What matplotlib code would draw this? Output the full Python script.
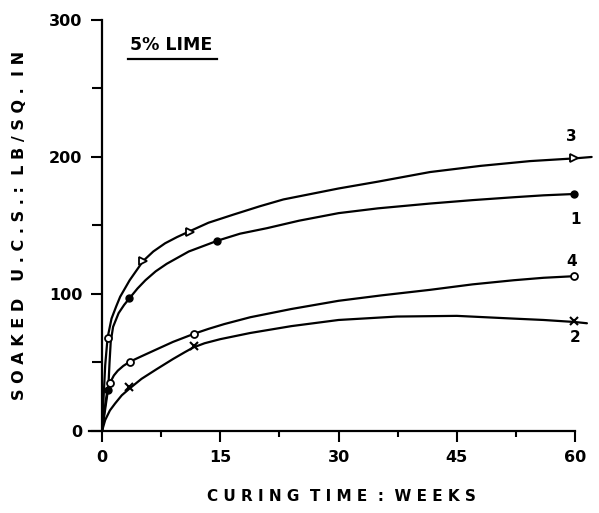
'''
Soaked UCS vs curing time for 5% lime mixes (curves 1-4).
'''

import matplotlib
matplotlib.use("Agg")
import matplotlib.pyplot as plt
from matplotlib.ticker import MultipleLocator

# Curves (weeks, lb/sq in)
weeks_3 = [0, 0.2, 0.4, 0.7, 1.2, 1.8, 2.3, 3.5, 5.2, 6.5, 8, 9.5, 11.2, 13.5, 16.7, 20,
           23, 26.5, 30, 35, 41.6, 48, 54.3, 60, 62.1]
ucs_3 = [0, 25, 48, 68, 82, 91, 98, 110, 124, 131, 137, 141.5, 146, 152, 158, 164,
         169, 173, 177, 182, 189, 193.5, 197, 199, 200]

weeks_1 = [0, 0.3, 0.6, 0.8, 0.95, 1.1, 1.4, 2.1, 2.8, 3.5, 4.5, 5.5, 6.8, 8.2, 11, 14.7,
           17.5, 20.9, 25, 30, 35, 41.6, 47, 52.2, 56, 60]
ucs_1 = [0, 12, 24, 32, 50, 65, 76, 86, 92, 97, 104, 110, 116.5, 122, 131, 139,
         144, 148, 153.5, 159, 162.5, 166, 168.5, 170.6, 172, 173]

weeks_4 = [0, 0.3, 0.6, 1.0, 1.5, 2.0, 2.7, 3.55, 5, 6.9, 9, 11.7, 13.5, 15.5, 18.8, 24, 30,
           35.5, 41.6, 47, 52.2, 56, 60]
ucs_4 = [0, 15, 27, 35, 40.5, 44, 47.5, 50.6, 54.5, 59.5, 65, 71, 74.5, 78, 83, 89, 95,
         99, 103, 107, 110, 111.8, 113]

weeks_2 = [0, 0.4, 1.0, 1.65, 2.5, 3.5, 5, 6.9, 9, 10.5, 11.6, 13, 15, 18.8, 24, 30, 37.4, 45,
           52.2, 56, 60, 61.5]
ucs_2 = [0, 8, 15, 20, 26, 31, 38, 45, 52.5, 57.5, 61, 64, 67, 71.5, 76.5, 81, 83.5, 84,
         82, 81, 79.5, 78.6]

# Measured points (markers)
pts_3_x = [5.2, 11.2, 59.8]
pts_3_y = [124, 145, 199]
pts_3b_x = [0.7]
pts_3b_y = [68]
pts_1_x = [0.8, 3.4, 14.6, 59.8]
pts_1_y = [30, 97, 139, 173]
pts_4_x = [1.0, 3.55, 11.7, 59.8]
pts_4_y = [35, 50.6, 71, 113]
pts_2_x = [3.4, 11.7, 59.8]
pts_2_y = [32, 62, 80]

# Curve numbers next to the right end
curve_labels = ["3", "1", "4", "2"]
label_x = [59.5, 60, 59.5, 60]
label_y = [215, 154, 124, 68]

plt.rcParams['font.family'] = ['DejaVu Sans']
plt.rcParams['font.weight'] = 'bold'

fig = plt.figure(figsize=(5.99, 5.13), dpi=100)
ax = fig.add_axes([0.148, 0.16, 0.845, 0.801])

lw = 1.6
for xs, ys in [(weeks_3, ucs_3), (weeks_1, ucs_1), (weeks_4, ucs_4), (weeks_2, ucs_2)]:
    ax.plot(xs, ys, color='black', lw=lw, solid_capstyle='round', solid_joinstyle='round')

ax.plot(pts_3_x, pts_3_y, ls='none', marker='>', ms=6, mfc='white', mec='black', mew=1.3)
ax.plot(pts_3b_x, pts_3b_y, ls='none', marker='o', ms=5, mfc='white', mec='black', mew=1.3)
ax.plot(pts_1_x, pts_1_y, ls='none', marker='o', ms=5, mfc='black', mec='black')
ax.plot(pts_4_x, pts_4_y, ls='none', marker='o', ms=5, mfc='white', mec='black', mew=1.3)
ax.plot(pts_2_x, pts_2_y, ls='none', marker='x', ms=6, mec='black', mew=1.5)

for lab, lx, ly in zip(curve_labels, label_x, label_y):
    ax.text(lx, ly, lab, ha='center', va='center', fontsize=11, fontweight='bold')

# "5% LIME" heading with underline
ax.text(3.5, 282, "5% LIME", ha='left', va='center', fontsize=12.5, fontweight='bold')
ax.plot([3.3, 14.6], [271.5, 271.5], color='black', lw=1.6)

ax.set_xlim(-1.7, 62.5)
ax.set_ylim(0, 300)

for side in ['top', 'right']:
    ax.spines[side].set_visible(False)
ax.spines['left'].set_position(('data', 0))
ax.spines['left'].set_bounds(0, 300)
ax.spines['bottom'].set_bounds(-1.7, 60)
ax.spines['left'].set_linewidth(1.6)
ax.spines['bottom'].set_linewidth(1.6)

ax.set_xticks([0, 15, 30, 45, 60])
ax.xaxis.set_minor_locator(MultipleLocator(7.5))
ax.set_yticks([0, 100, 200, 300])
ax.yaxis.set_minor_locator(MultipleLocator(50))
ax.tick_params(which='major', direction='out', length=8, width=1.5, labelsize=11.5, pad=6)
ax.tick_params(which='minor', direction='out', length=4, width=1.5)
ax.tick_params(axis='y', which='minor', length=7)

ax.set_xlabel("C U R I N G  T I M E  :  W E E K S", fontsize=11, fontweight='bold', labelpad=17)
ax.set_ylabel("S O A K E D   U . C . S . :  L B / S Q .  I N", fontsize=11.5, fontweight='bold', labelpad=16)

fig.savefig("out.png", dpi=100)
